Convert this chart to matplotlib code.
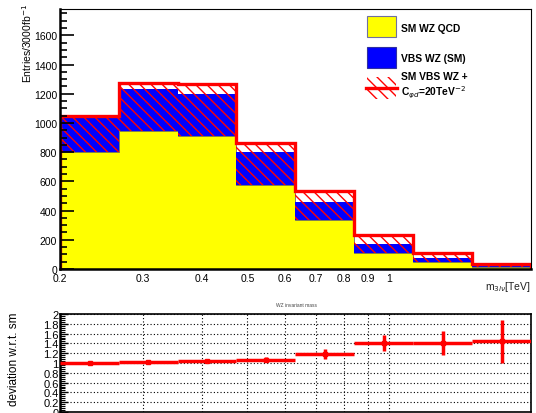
import matplotlib
matplotlib.use("Agg")
import matplotlib.pyplot as plt
import numpy as np
from matplotlib.patches import Rectangle
from matplotlib.lines import Line2D
from matplotlib.ticker import FixedLocator, MultipleLocator, NullFormatter

plt.rcParams['font.family'] = ['Liberation Sans', 'DejaVu Sans']
plt.rcParams['hatch.linewidth'] = 1.0
plt.rcParams['hatch.color'] = 'red'

# m_3lv bin edges [TeV]
edges = [0.2, 0.267, 0.356, 0.474, 0.632, 0.843, 1.125, 1.5, 2.0]

# events / 3000 fb^-1
qcd = [800, 944, 910, 578, 338, 110, 45, 15]
vbs_sm = [235, 291, 286, 222, 119, 61, 30, 7]
vbs_eft = [247, 327, 354, 282, 194, 125, 65, 21]

# deviation w.r.t. SM
ratio = [1.00, 1.03, 1.05, 1.07, 1.18, 1.41, 1.41, 1.44]
ratio_err = [0.03, 0.03, 0.04, 0.05, 0.10, 0.17, 0.25, 0.44]

xticks = [0.2, 0.3, 0.4, 0.5, 0.6, 0.7, 0.8, 0.9, 1.0]
xticklabels = ['0.2', '0.3', '0.4', '0.5', '0.6', '0.7', '0.8', '0.9', '1']

qcd = np.array(qcd)
sm_top = qcd + np.array(vbs_sm)
eft_top = qcd + np.array(vbs_eft)
edges = np.array(edges)

fig = plt.figure(figsize=(5.36, 4.14), dpi=100)
ax1 = fig.add_axes([0.1119, 0.3478, 0.8787, 0.628])
ax2 = fig.add_axes([0.1119, 0.0024, 0.8787, 0.2367])

# --- main histogram stack ---
ax1.stairs(qcd, edges, baseline=0, fill=True, color='#ffff00', zorder=1)
ax1.stairs(qcd, edges, baseline=0, color='#666666', lw=0.6, zorder=1.1)
ax1.stairs(sm_top, edges, baseline=qcd, fill=True, color='#0000ff', zorder=1.2)
ax1.stairs(eft_top, edges, baseline=qcd, fill=True, facecolor='none',
           edgecolor='red', hatch='\\\\\\', lw=0, zorder=1.3)
ax1.stairs(eft_top, edges, baseline=0, color='red', lw=2.4, zorder=1.4)

ax1.set_xscale('log')
ax1.set_xlim(0.2, 2.0)
ax1.set_ylim(0, 1780)
ax1.xaxis.set_major_locator(FixedLocator(xticks))
ax1.set_xticklabels(xticklabels)
ax1.xaxis.set_minor_locator(FixedLocator([1.0]))
ax1.xaxis.set_minor_formatter(NullFormatter())
ax1.tick_params(axis='x', which='major', length=0, labelsize=7.5, pad=3)
ax1.tick_params(axis='x', which='minor', direction='in', length=6, width=1)
ax1.yaxis.set_major_locator(MultipleLocator(200))
ax1.yaxis.set_minor_locator(MultipleLocator(50))
ax1.tick_params(axis='y', which='major', direction='in', length=10, width=1.2,
                labelsize=7.5, pad=2)
ax1.tick_params(axis='y', which='minor', direction='in', length=5, width=1.2)
ax1.spines['left'].set_linewidth(1.8)
ax1.spines['bottom'].set_linewidth(1.8)
ax1.spines['top'].set_linewidth(0.8)
ax1.spines['right'].set_linewidth(0.8)

fig.text(0.05, 0.99, 'Entries/3000fb$^{-1}$', rotation=90, ha='center',
         va='top', fontsize=7.5)
fig.text(531 / 536, 1 - 287 / 414, r'm$_{3l\nu}$[TeV]', ha='right',
         va='center', fontsize=7.5, color='#222222')

# --- legend ---
def fx(px):
    return px / 536


def fy(py):
    return 1 - py / 414


fig.add_artist(Rectangle((fx(367), fy(38)), fx(29), 21 / 414,
                         facecolor='#ffff00', edgecolor='#7070a0', lw=0.8,
                         transform=fig.transFigure))
fig.add_artist(Rectangle((fx(367), fy(69)), fx(29), 21 / 414,
                         facecolor='#0000ff', edgecolor='#3030a0', lw=0.8,
                         transform=fig.transFigure))
fig.add_artist(Rectangle((fx(367), fy(100)), fx(29), 22 / 414,
                         facecolor='none', edgecolor='red', hatch='\\\\\\',
                         lw=0, transform=fig.transFigure))
fig.add_artist(Line2D([fx(366), fx(397)], [fy(89), fy(89)], color='red',
                      lw=2.4, transform=fig.transFigure))
legend_kw = dict(fontsize=7.4, fontweight='bold', va='center', ha='left')
fig.text(fx(401), fy(29), 'SM WZ QCD', **legend_kw)
fig.text(fx(401), fy(59), 'VBS WZ (SM)', **legend_kw)
fig.text(fx(401), fy(77), 'SM VBS WZ +', **legend_kw)
fig.text(fx(401), fy(93), r'C$_{\varphi d}$=20TeV$^{-2}$', **legend_kw)

# --- ratio panel ---
centers = np.sqrt(edges[:-1] * edges[1:])
xerr = [centers - edges[:-1], edges[1:] - centers]
ax2.errorbar(centers, ratio, xerr=xerr, yerr=ratio_err, fmt='s', ms=2.5,
             color='red', ecolor='red', elinewidth=2.5, capsize=0, zorder=3)
ax2.set_xscale('log')
ax2.set_xlim(0.2, 2.0)
ax2.set_ylim(0, 2)
ax2.xaxis.set_major_locator(FixedLocator(xticks))
ax2.xaxis.set_minor_locator(FixedLocator([]))
ax2.xaxis.set_major_formatter(NullFormatter())
ax2.tick_params(axis='x', which='major', length=0)
ax2.yaxis.set_minor_locator(MultipleLocator(0.04))
ax2.set_yticks([0, 0.2, 0.4, 0.6, 0.8, 1.0, 1.2, 1.4, 1.6, 1.8, 2.0])
ax2.set_yticklabels(['0', '0.2', '0.4', '0.6', '0.8', '1', '1.2', '1.4',
                     '1.6', '1.8', '2'])
ax2.tick_params(axis='y', which='major', direction='in', length=6, width=1.0,
                labelsize=8, pad=1)
ax2.tick_params(axis='y', which='minor', direction='in', length=3.5, width=0.8)
ax2.grid(True, which='major', color='black', linestyle=(0, (1, 2)), lw=0.8)
for s in ax2.spines.values():
    s.set_linewidth(1.2)
ax2.spines['left'].set_linewidth(1.8)

fig.text(0.026, 1 - 359 / 414, 'deviation w.r.t. sm', rotation=90,
         ha='center', va='center', fontsize=8.5)
fig.text(296 / 536, 1 - 306 / 414, 'WZ invariant mass', ha='center',
         va='center', fontsize=3.5, color='#444444')

fig.savefig('out.png', dpi=100)
